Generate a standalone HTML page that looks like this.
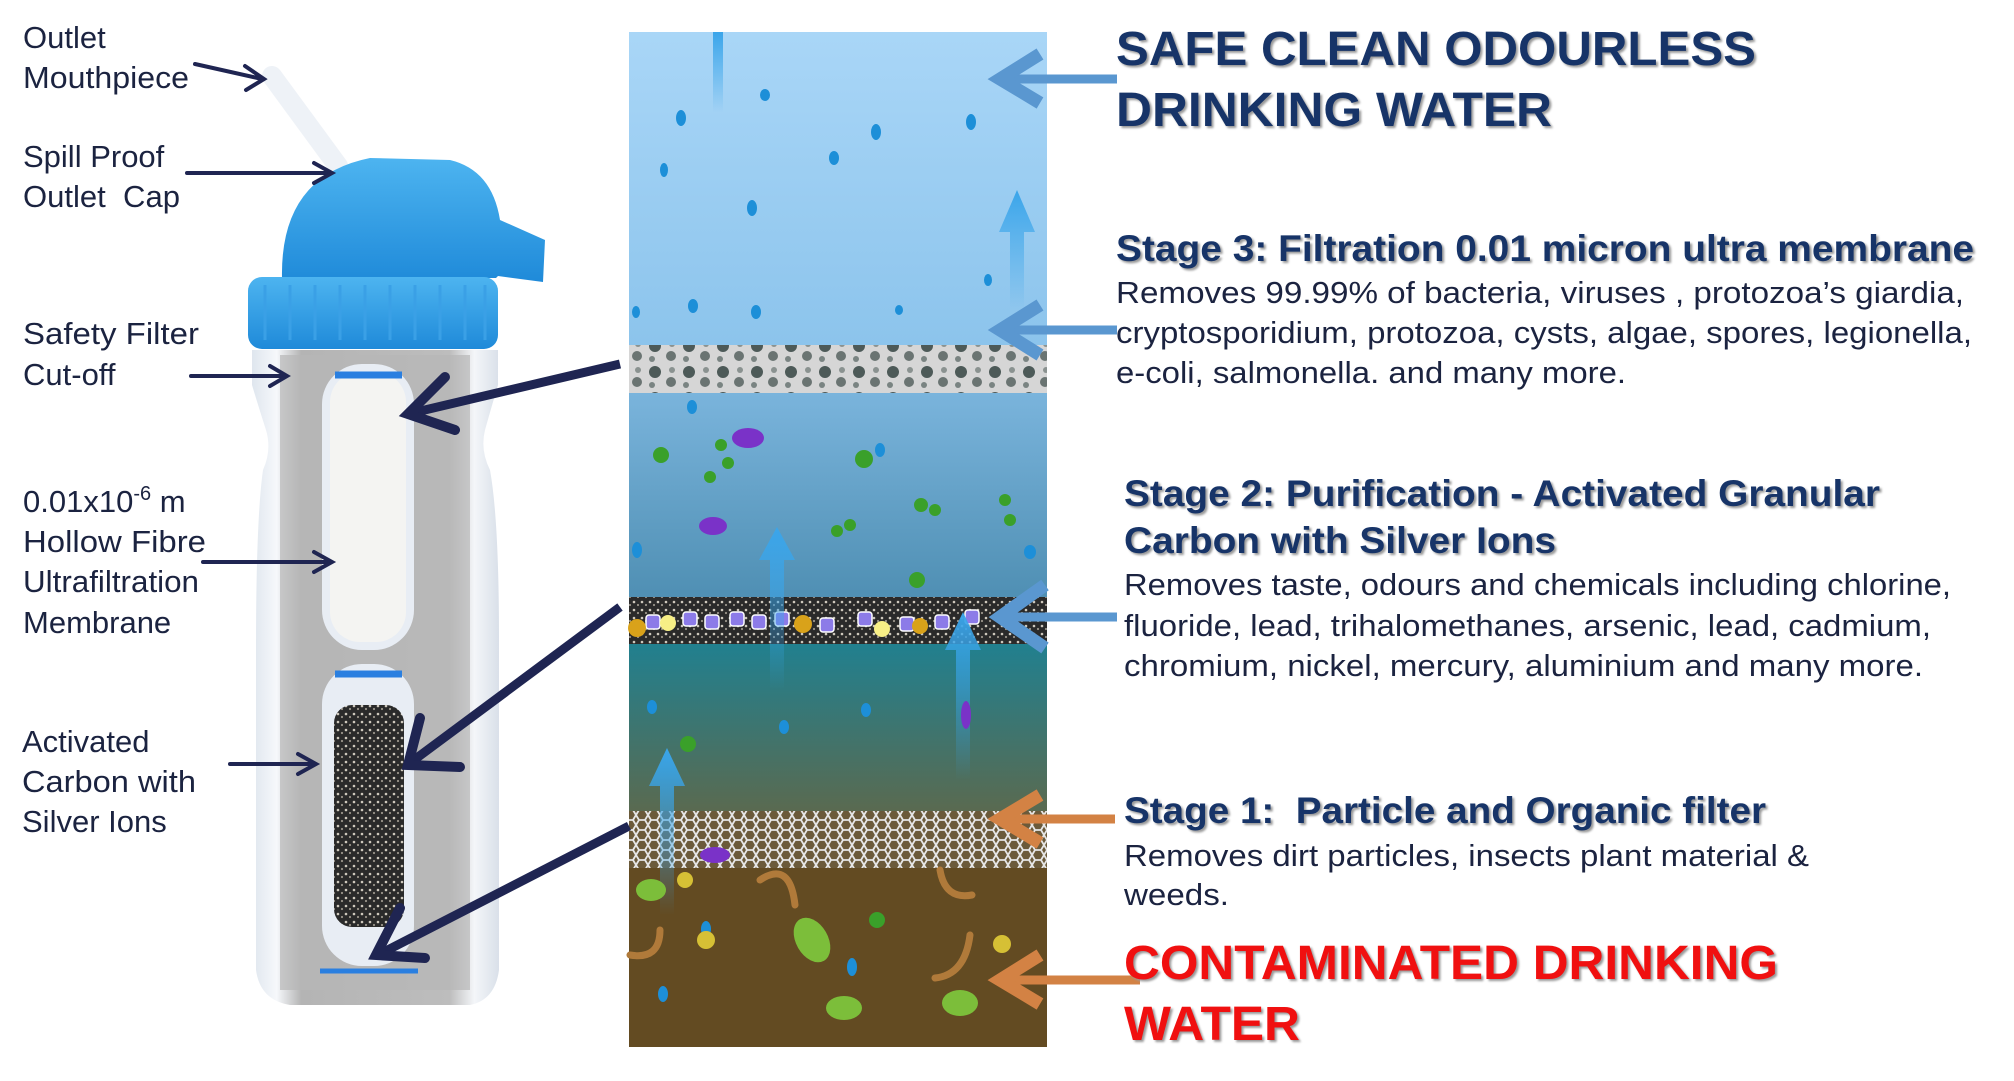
<!DOCTYPE html>
<html><head><meta charset="utf-8"><style>
html,body{margin:0;padding:0;background:#fff;}
svg{display:block;}
text{font-family:"Liberation Sans",sans-serif;}
</style></head><body>
<svg width="2014" height="1081" viewBox="0 0 2014 1081" xmlns="http://www.w3.org/2000/svg">
<defs>
<linearGradient id="top" x1="0" y1="0" x2="0" y2="1"><stop offset="0" stop-color="#a9d6f7"/><stop offset="1" stop-color="#8cc4ec"/></linearGradient>
<linearGradient id="mid" x1="0" y1="0" x2="0" y2="1"><stop offset="0" stop-color="#7ab4dc"/><stop offset="1" stop-color="#4f8fb3"/></linearGradient>
<linearGradient id="teal" x1="0" y1="0" x2="0" y2="1"><stop offset="0" stop-color="#21808f"/><stop offset="1" stop-color="#5a6a50"/></linearGradient>
<linearGradient id="body" x1="0" y1="0" x2="1" y2="0"><stop offset="0" stop-color="#dfe6ee"/><stop offset="0.1" stop-color="#f6f8fb"/><stop offset="0.2" stop-color="#b4b4b4"/><stop offset="0.8" stop-color="#bdbdbd"/><stop offset="0.9" stop-color="#f4f6f9"/><stop offset="1" stop-color="#d9e0e9"/></linearGradient>
<linearGradient id="cap" x1="0" y1="0" x2="0" y2="1"><stop offset="0" stop-color="#4db4f0"/><stop offset="1" stop-color="#1f8ad9"/></linearGradient>
<linearGradient id="up" x1="0" y1="0" x2="0" y2="1"><stop offset="0" stop-color="#3aa5ea"/><stop offset="1" stop-color="#3aa5ea" stop-opacity="0"/></linearGradient>
<pattern id="carb" width="8" height="8" patternUnits="userSpaceOnUse"><rect width="8" height="8" fill="#2a2a2a"/><circle cx="2" cy="2" r="1.3" fill="#cfc9bd"/><circle cx="6" cy="5" r="1.1" fill="#9a948a"/></pattern>
<pattern id="mesh" width="12" height="10" patternUnits="userSpaceOnUse"><rect width="12" height="10" fill="#6b5a3a"/><path d="M0 5 L3 0 H9 L12 5 L9 10 H3 Z" fill="none" stroke="#e6e6e6" stroke-width="1.8"/></pattern>
<pattern id="memb" width="34" height="26" patternUnits="userSpaceOnUse"><rect width="34" height="26" fill="#d6d6d6"/><circle cx="9" cy="8" r="6" fill="#4d5a58"/><circle cx="25" cy="18" r="5" fill="#6a7472"/><circle cx="26" cy="6" r="3" fill="#8a9290"/><circle cx="6" cy="21" r="3" fill="#7a8482"/></pattern>
</defs>

<rect x="629" y="32" width="418" height="314" fill="url(#top)"/>
<rect x="629" y="345" width="418" height="49" fill="url(#memb)"/>
<rect x="629" y="393" width="418" height="205" fill="url(#mid)"/>
<rect x="629" y="597" width="418" height="48" fill="url(#carb)"/>
<g fill="#8c7be8" stroke="#fff" stroke-width="1.5">
<rect x="646" y="615" width="14" height="14" rx="3"/><rect x="683" y="612" width="14" height="14" rx="3"/><rect x="705" y="615" width="14" height="14" rx="3"/><rect x="730" y="612" width="14" height="14" rx="3"/><rect x="752" y="615" width="14" height="14" rx="3"/><rect x="775" y="612" width="14" height="14" rx="3"/><rect x="820" y="618" width="14" height="14" rx="3"/><rect x="858" y="612" width="14" height="14" rx="3"/><rect x="900" y="617" width="14" height="14" rx="3"/><rect x="935" y="615" width="14" height="14" rx="3"/><rect x="965" y="610" width="14" height="14" rx="3"/></g>
<g fill="#d9a21a"><circle cx="637" cy="628" r="9"/><circle cx="803" cy="624" r="9"/><circle cx="920" cy="626" r="8"/></g>
<g fill="#f7ef86"><circle cx="668" cy="623" r="8"/><circle cx="882" cy="629" r="8"/></g>
<rect x="629" y="644" width="418" height="168" fill="url(#teal)"/>
<rect x="629" y="811" width="418" height="58" fill="url(#mesh)"/>
<rect x="629" y="868" width="418" height="179" fill="#634b22"/>
<g fill="url(#up)">
<path d="M1017 190 L1035 232 H1024 V310 H1010 V232 H999 Z"/>
<path d="M777 527 L795 560 H784 V690 H770 V560 H759 Z"/>
<path d="M963 612 L981 650 H970 V780 H956 V650 H945 Z"/>
<path d="M667 748 L685 786 H674 V915 H660 V786 H649 Z"/>
<rect x="713" y="32" width="10" height="80"/>
</g>
<g fill="#1d8fd8">
<ellipse cx="681" cy="118" rx="5" ry="8"/><ellipse cx="765" cy="95" rx="5" ry="6"/><ellipse cx="876" cy="132" rx="5" ry="8"/><ellipse cx="971" cy="122" rx="5" ry="8"/><ellipse cx="834" cy="158" rx="5" ry="7"/><ellipse cx="664" cy="170" rx="4" ry="7"/><ellipse cx="752" cy="208" rx="5" ry="8"/><ellipse cx="988" cy="280" rx="4" ry="6"/><ellipse cx="636" cy="312" rx="4" ry="6"/><ellipse cx="693" cy="306" rx="5" ry="7"/><ellipse cx="756" cy="312" rx="5" ry="7"/><ellipse cx="899" cy="310" rx="4" ry="5"/>
<ellipse cx="692" cy="407" rx="5" ry="7"/><ellipse cx="880" cy="450" rx="5" ry="7"/><ellipse cx="637" cy="550" rx="5" ry="8"/><ellipse cx="1030" cy="552" rx="6" ry="7"/><ellipse cx="652" cy="707" rx="5" ry="7"/><ellipse cx="784" cy="727" rx="5" ry="7"/><ellipse cx="866" cy="710" rx="5" ry="7"/><ellipse cx="706" cy="929" rx="5" ry="8"/><ellipse cx="852" cy="967" rx="5" ry="9"/><ellipse cx="663" cy="994" rx="5" ry="8"/>
</g>
<g fill="#3aa02a"><circle cx="661" cy="455" r="8"/><circle cx="721" cy="445" r="6"/><circle cx="728" cy="463" r="6"/><circle cx="710" cy="477" r="6"/><circle cx="864" cy="459" r="9"/><circle cx="921" cy="505" r="7"/><circle cx="935" cy="510" r="6"/><circle cx="1005" cy="500" r="6"/><circle cx="1010" cy="520" r="6"/><circle cx="837" cy="531" r="6"/><circle cx="850" cy="525" r="6"/><circle cx="917" cy="580" r="8"/><circle cx="688" cy="744" r="8"/><circle cx="877" cy="920" r="8"/></g>
<g fill="#7a32c8"><ellipse cx="748" cy="438" rx="16" ry="10"/><ellipse cx="713" cy="526" rx="14" ry="9"/><ellipse cx="715" cy="855" rx="15" ry="8"/><ellipse cx="966" cy="715" rx="5" ry="14"/></g>
<g fill="#7cbe3a"><ellipse cx="844" cy="1008" rx="18" ry="12"/><ellipse cx="651" cy="890" rx="15" ry="11"/><ellipse cx="812" cy="940" rx="16" ry="24" transform="rotate(-30 812 940)"/><ellipse cx="960" cy="1003" rx="18" ry="13"/></g>
<g fill="none" stroke="#b07a3a" stroke-width="7" stroke-linecap="round"><path d="M760 880 Q790 860 795 905"/><path d="M940 870 Q945 900 972 895"/><path d="M660 930 Q660 960 630 955"/><path d="M970 935 Q965 975 935 978"/></g>
<g fill="#d6c035"><circle cx="685" cy="880" r="8"/><circle cx="706" cy="940" r="9"/><circle cx="1002" cy="944" r="9"/></g>

<g fill="none" stroke-linecap="butt">
<g stroke="#5a97d0" stroke-width="9"><line x1="1117" y1="79" x2="1000" y2="79"/><line x1="1117" y1="330" x2="1000" y2="330"/><line x1="1117" y1="617" x2="1000" y2="617"/></g>
<g stroke="#5a97d0" stroke-width="13" stroke-linejoin="miter"><polyline points="1040,54 1000,79 1040,103"/><polyline points="1040,305 1000,330 1040,355"/><polyline points="1045,585 1000,617 1045,648"/></g>
<g stroke="#d38244" stroke-width="9"><line x1="1115" y1="819" x2="1000" y2="819"/><line x1="1140" y1="980" x2="1000" y2="980"/></g>
<g stroke="#d38244" stroke-width="13"><polyline points="1040,795 1000,819 1040,843"/><polyline points="1040,955 1000,980 1040,1004"/></g>
</g>

<path d="M252 350 H498 V385 Q492 405 485 430 Q480 450 490 470 Q499 520 499 640 V970 Q495 1000 470 1005 H290 Q260 1000 256 970 V650 Q256 520 263 470 Q272 450 266 430 Q258 405 252 385 Z" fill="url(#body)"/>
<path d="M280 355 H470 V990 H280 Z" fill="#b6b6b6" opacity="0.7"/>
<rect x="322" y="364" width="92" height="286" rx="40" fill="#e8edf4"/>
<rect x="330" y="372" width="76" height="270" rx="30" fill="#f4f4f2"/>
<path d="M335 375 H402" stroke="#2a7fe0" stroke-width="7"/>
<rect x="322" y="664" width="92" height="302" rx="40" fill="#e8edf4"/>
<path d="M335 674 H402" stroke="#2a7fe0" stroke-width="7"/>
<rect x="334" y="705" width="70" height="222" rx="18" fill="url(#carb)"/>
<path d="M320 971 H418" stroke="#2a7fe0" stroke-width="5"/>
<line x1="272" y1="76" x2="338" y2="166" stroke="#eef2f7" stroke-width="20" stroke-linecap="round"/>
<path d="M282 278 Q280 176 370 158 L450 160 Q492 170 500 220 L545 240 L543 282 L498 276 L496 278 Z" fill="url(#cap)"/>
<rect x="248" y="277" width="250" height="72" rx="14" fill="url(#cap)"/>
<g stroke="#3aa0e6" stroke-width="3"><line x1="265" y1="285" x2="265" y2="340"/><line x1="290" y1="285" x2="290" y2="340"/><line x1="315" y1="285" x2="315" y2="340"/><line x1="340" y1="285" x2="340" y2="340"/><line x1="365" y1="285" x2="365" y2="340"/><line x1="390" y1="285" x2="390" y2="340"/><line x1="415" y1="285" x2="415" y2="340"/><line x1="440" y1="285" x2="440" y2="340"/><line x1="465" y1="285" x2="465" y2="340"/><line x1="485" y1="285" x2="485" y2="340"/></g>

<g stroke="#1f2552" fill="none" stroke-linecap="round">
<g stroke-width="4"><line x1="195" y1="64" x2="262" y2="79"/><polyline points="245,66 264,79 246,90"/>
<line x1="187" y1="173" x2="330" y2="173"/><polyline points="314,163 332,173 314,183"/>
<line x1="191" y1="376" x2="285" y2="376"/><polyline points="270,366 287,376 270,386"/>
<line x1="203" y1="562" x2="330" y2="562"/><polyline points="314,552 332,562 314,572"/>
<line x1="230" y1="764" x2="314" y2="764"/><polyline points="298,754 316,764 298,774"/></g>
<g stroke-width="9" stroke-linecap="butt"><line x1="620" y1="364" x2="412" y2="413"/><line x1="620" y1="607" x2="410" y2="763"/><line x1="629" y1="826" x2="378" y2="955"/></g>
<g stroke-width="10" stroke-linejoin="miter"><polyline points="445,377 408,414 455,430"/><polyline points="420,718 408,765 460,767"/><polyline points="400,908 376,955 425,958"/></g>
</g>

<g font-size="31" fill="#1b2340">
<text x="23" y="48">Outlet</text><text x="23" y="88" textLength="166" lengthAdjust="spacingAndGlyphs">Mouthpiece</text>
<text x="23" y="167">Spill Proof</text><text x="23" y="207" textLength="157" lengthAdjust="spacingAndGlyphs">Outlet&#160; Cap</text>
<text x="23" y="344" textLength="176" lengthAdjust="spacingAndGlyphs">Safety Filter</text><text x="23" y="385">Cut-off</text>
<text x="23" y="512">0.01x10<tspan font-size="20" dy="-12">-6</tspan><tspan dy="12"> m</tspan></text>
<text x="23" y="552" textLength="183" lengthAdjust="spacingAndGlyphs">Hollow Fibre</text><text x="23" y="592" textLength="176" lengthAdjust="spacingAndGlyphs">Ultrafiltration</text><text x="23" y="633">Membrane</text>
<text x="22" y="752">Activated</text><text x="22" y="792" textLength="174" lengthAdjust="spacingAndGlyphs">Carbon with</text><text x="22" y="832">Silver Ions</text>
</g>

<g font-weight="bold" fill="#173468" style="text-shadow:2px 2px 2px #999">
<text x="1116" y="65" font-size="48" textLength="640" lengthAdjust="spacingAndGlyphs">SAFE CLEAN ODOURLESS</text>
<text x="1116" y="126" font-size="48" textLength="436" lengthAdjust="spacingAndGlyphs">DRINKING WATER</text>
<text x="1116" y="261" font-size="37" textLength="858" lengthAdjust="spacingAndGlyphs">Stage 3: Filtration 0.01 micron ultra membrane</text>
<text x="1124" y="506" font-size="37" textLength="756" lengthAdjust="spacingAndGlyphs">Stage 2: Purification - Activated Granular</text>
<text x="1124" y="553" font-size="37" textLength="432" lengthAdjust="spacingAndGlyphs">Carbon with Silver Ions</text>
<text x="1124" y="823" font-size="37" textLength="642" lengthAdjust="spacingAndGlyphs">Stage 1:&#160; Particle and Organic filter</text>
</g>
<g font-size="31" fill="#1b2340">
<text x="1116" y="303" textLength="848" lengthAdjust="spacingAndGlyphs">Removes 99.99% of bacteria, viruses , protozoa’s giardia,</text>
<text x="1116" y="343" textLength="856" lengthAdjust="spacingAndGlyphs">cryptosporidium, protozoa, cysts, algae, spores, legionella,</text>
<text x="1116" y="383" textLength="510" lengthAdjust="spacingAndGlyphs">e-coli, salmonella. and many more.</text>
<text x="1124" y="595" textLength="827" lengthAdjust="spacingAndGlyphs">Removes taste, odours and chemicals including chlorine,</text>
<text x="1124" y="636" textLength="807" lengthAdjust="spacingAndGlyphs">fluoride, lead, trihalomethanes, arsenic, lead, cadmium,</text>
<text x="1124" y="676" textLength="799" lengthAdjust="spacingAndGlyphs">chromium, nickel, mercury, aluminium and many more.</text>
<text x="1124" y="866" textLength="685" lengthAdjust="spacingAndGlyphs">Removes dirt particles, insects plant material &amp;</text>
<text x="1124" y="905" textLength="105" lengthAdjust="spacingAndGlyphs">weeds.</text>
</g>
<g font-weight="bold" fill="#f01010" font-size="48" style="text-shadow:2px 2px 2px #999">
<text x="1124" y="979" textLength="654" lengthAdjust="spacingAndGlyphs">CONTAMINATED DRINKING</text>
<text x="1124" y="1040" textLength="176" lengthAdjust="spacingAndGlyphs">WATER</text>
</g>
</svg>
</body></html>
